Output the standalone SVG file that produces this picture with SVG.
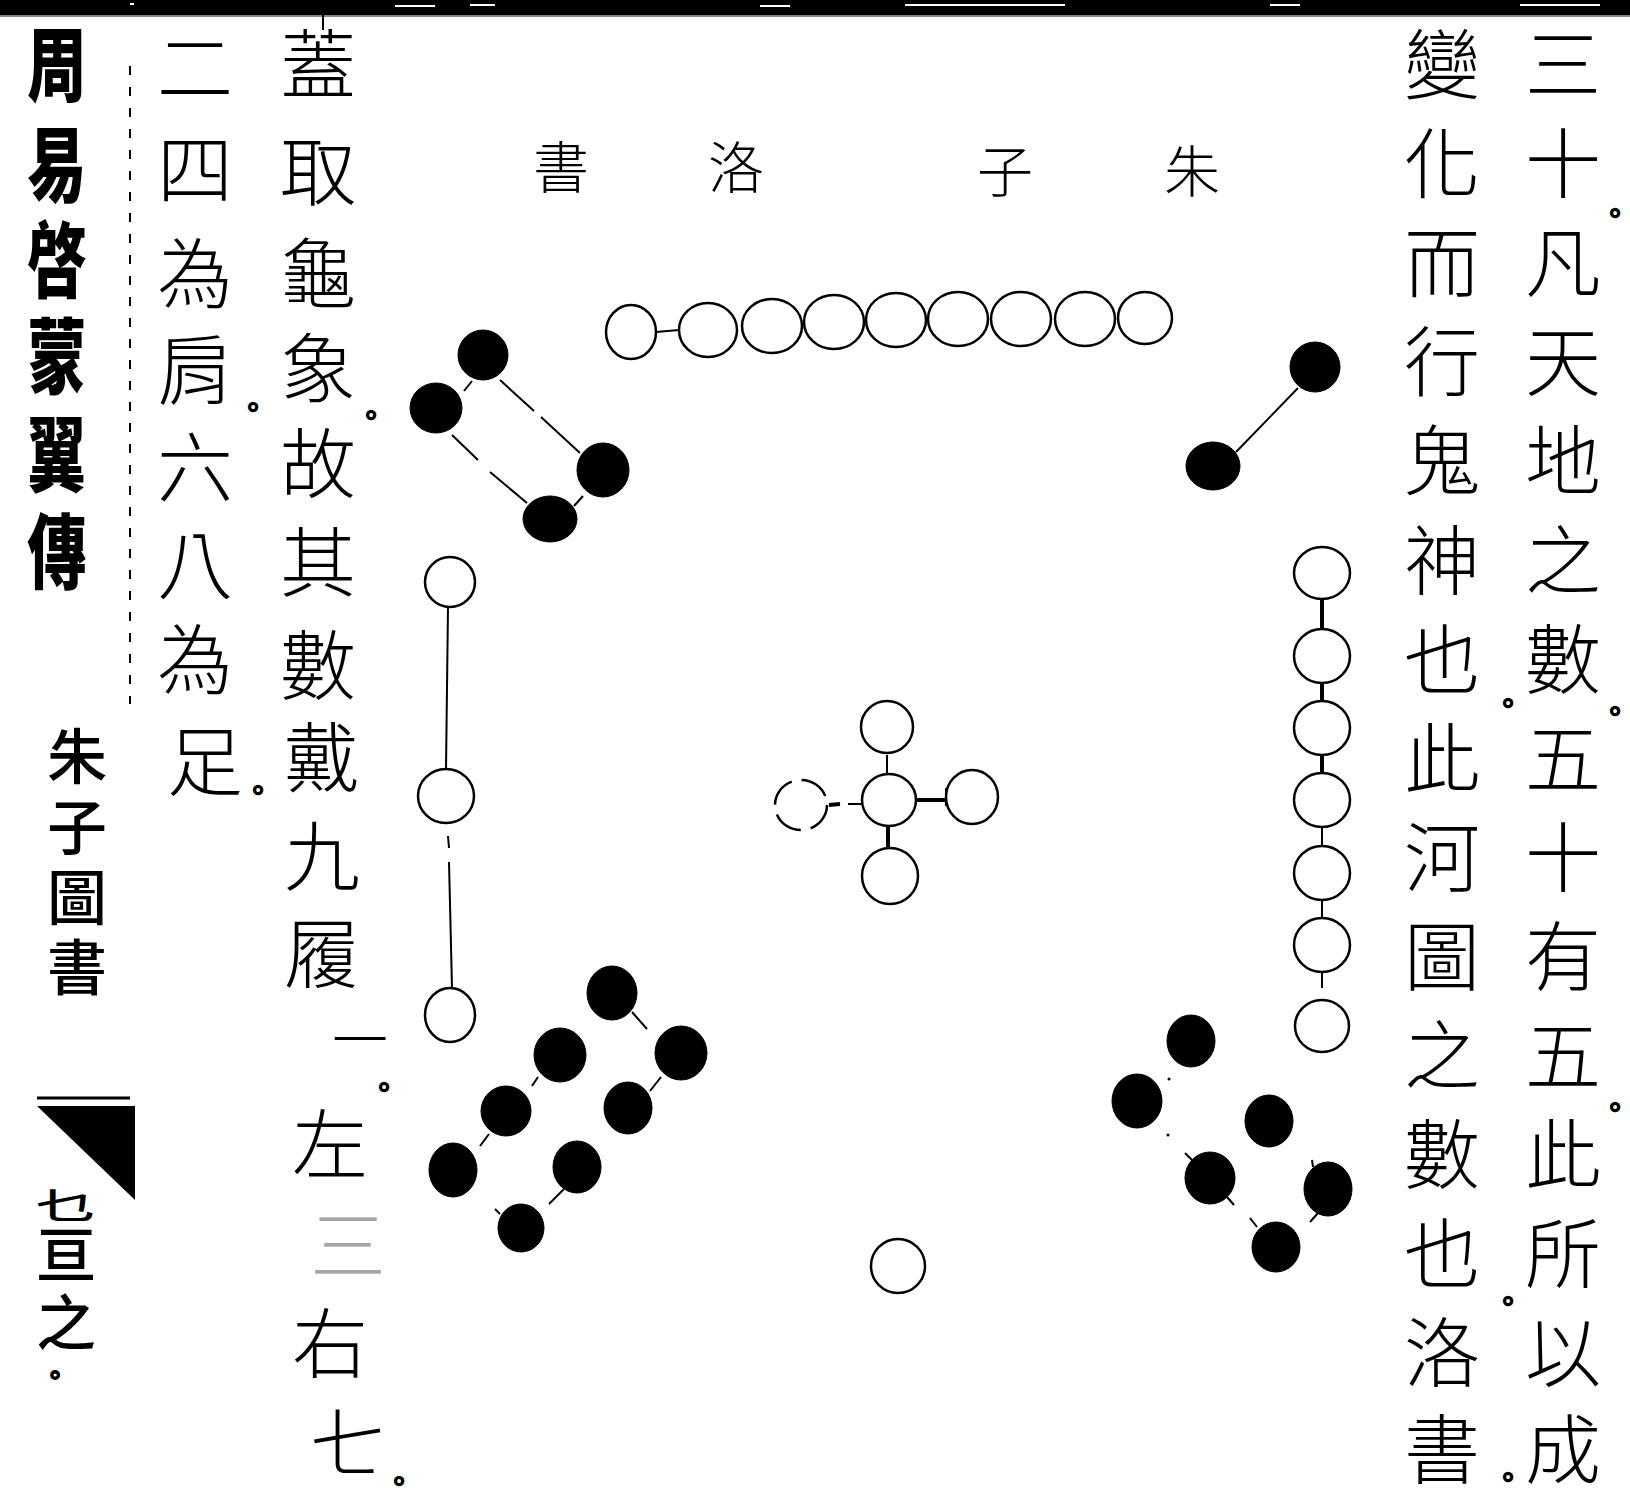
<svg xmlns="http://www.w3.org/2000/svg" width="1630" height="1500" viewBox="0 0 1630 1500">
<style>
.t{font-family:"Liberation Sans","Noto Sans CJK TC","Noto Sans CJK SC",sans-serif;font-size:76px;font-weight:300;text-anchor:middle;dominant-baseline:central;fill:#000}
.p{font-size:28px;font-weight:400;stroke:#000;stroke-width:1.8}
.ttl{font-family:"Liberation Sans","Noto Sans CJK TC","Noto Sans CJK SC",sans-serif;font-size:56px;font-weight:300;text-anchor:middle;dominant-baseline:central;fill:#000}
.m{font-family:"Liberation Sans","Noto Sans CJK TC","Noto Sans CJK SC",sans-serif;font-size:82px;font-weight:900;text-anchor:middle;dominant-baseline:central;fill:#000}
.s{font-family:"Liberation Sans","Noto Sans CJK TC","Noto Sans CJK SC",sans-serif;font-size:60px;font-weight:500;text-anchor:middle;dominant-baseline:central;fill:#000}
.w{fill:#fff;stroke:#000;stroke-width:2.5}
.b{fill:#000;stroke:#000;stroke-width:1}
.ln{stroke:#000;stroke-width:2;fill:none}
.lt{stroke:#000;stroke-width:4;fill:none}
</style>
<rect width="1630" height="1500" fill="#fff"/>
<!-- top band -->
<rect x="0" y="0" width="1630" height="15" fill="#000"/>
<rect x="0" y="15" width="1630" height="2" fill="#888"/>
<g fill="#fff">
<rect x="130" y="3" width="4" height="2"/><rect x="395" y="5" width="40" height="2"/><rect x="470" y="4" width="25" height="2"/><rect x="760" y="5" width="30" height="2"/><rect x="905" y="4" width="160" height="2"/><rect x="1270" y="4" width="30" height="2"/><rect x="1520" y="4" width="80" height="2"/>
</g>
<line x1="323" y1="14" x2="323" y2="30" class="ln"/>

<!-- margin column -->
<g id="margin-title">
<text class="m" transform="scale(0.72,1)"><tspan x="79" y="66">周</tspan><tspan x="79" y="166">易</tspan><tspan x="79" y="262">啓</tspan><tspan x="79" y="358">蒙</tspan><tspan x="79" y="456">翼</tspan><tspan x="79" y="553">傳</tspan></text>
</g>
<line x1="130" y1="66" x2="130" y2="704" stroke="#000" stroke-width="2" stroke-dasharray="9 12"/>
<g id="margin-section">
<text class="s"><tspan x="77" y="758">朱</tspan><tspan x="77" y="829">子</tspan><tspan x="77" y="899">圖</tspan><tspan x="77" y="969">書</tspan></text>
</g>
<g id="fish-tail">
<line x1="37" y1="1098" x2="130" y2="1098" stroke="#000" stroke-width="3"/>
<polygon points="37,1106 135,1106 135,1200" fill="#000"/>
</g>
<g id="margin-page">
<text class="s" font-size="50" transform="translate(66,1206) scale(1,0.6)" x="0" y="0">乜</text>
<text class="s" font-size="52"><tspan x="66" y="1256">亘</tspan><tspan x="66" y="1324">之</tspan><tspan x="55" y="1376" font-size="26" stroke="#000" stroke-width="1.8">。</tspan></text>
</g>

<!-- column 2 -->
<g id="col-2">
<text class="t"><tspan x="195" y="69">二</tspan><tspan x="195" y="171">四</tspan><tspan x="195" y="275">為</tspan><tspan x="195" y="372">肩</tspan><tspan class="p" x="253" y="408">。</tspan><tspan x="195" y="469">六</tspan><tspan x="195" y="566">八</tspan><tspan x="195" y="661">為</tspan><tspan x="205" y="763">足</tspan><tspan class="p" x="258" y="791">。</tspan></text>
</g>

<!-- column 3 -->
<g id="col-3">
<text class="t"><tspan x="318" y="66">蓋</tspan><tspan x="318" y="173">取</tspan><tspan x="318" y="275">龜</tspan><tspan x="318" y="370">象</tspan><tspan class="p" x="371" y="416">。</tspan><tspan x="318" y="465">故</tspan><tspan x="318" y="564">其</tspan><tspan x="318" y="667">數</tspan><tspan x="322" y="759">戴</tspan><tspan x="322" y="858">九</tspan><tspan x="322" y="955">履</tspan><tspan x="360" y="1040" font-size="56">一</tspan><tspan class="p" x="384" y="1088">。</tspan><tspan x="330" y="1146">左</tspan><tspan x="348" y="1247" fill-opacity="0.35">三</tspan><tspan x="330" y="1345">右</tspan><tspan x="348" y="1445">七</tspan><tspan class="p" x="399" y="1482" font-size="26">。</tspan></text>
</g>

<!-- right columns -->
<g id="col-r1">
<text class="t"><tspan x="1563" y="66">三</tspan><tspan x="1563" y="165">十</tspan><tspan class="p" x="1615" y="214">。</tspan><tspan x="1563" y="264">凡</tspan><tspan x="1563" y="363">天</tspan><tspan x="1563" y="462">地</tspan><tspan x="1563" y="562">之</tspan><tspan x="1563" y="661">數</tspan><tspan class="p" x="1615" y="712">。</tspan><tspan x="1563" y="760">五</tspan><tspan x="1563" y="859">十</tspan><tspan x="1563" y="958">有</tspan><tspan x="1563" y="1057">五</tspan><tspan class="p" x="1615" y="1108">。</tspan><tspan x="1563" y="1156">此</tspan><tspan x="1563" y="1255">所</tspan><tspan x="1563" y="1354">以</tspan><tspan x="1563" y="1451">成</tspan></text>
</g>
<g id="col-r2">
<text class="t"><tspan x="1442" y="66">變</tspan><tspan x="1442" y="165">化</tspan><tspan x="1442" y="264">而</tspan><tspan x="1442" y="363">行</tspan><tspan x="1442" y="462">鬼</tspan><tspan x="1442" y="562">神</tspan><tspan x="1442" y="661">也</tspan><tspan class="p" x="1508" y="704">。</tspan><tspan x="1442" y="760">此</tspan><tspan x="1442" y="859">河</tspan><tspan x="1442" y="958">圖</tspan><tspan x="1442" y="1057">之</tspan><tspan x="1442" y="1156">數</tspan><tspan x="1442" y="1255">也</tspan><tspan class="p" x="1508" y="1302" font-size="22">。</tspan><tspan x="1442" y="1354">洛</tspan><tspan x="1442" y="1451">書</tspan><tspan class="p" x="1508" y="1478" font-size="18">。</tspan></text>
</g>

<!-- title -->
<g id="title">
<text class="ttl"><tspan x="1192" y="172">朱</tspan><tspan x="1005" y="172">子</tspan><tspan x="736" y="168">洛</tspan><tspan x="561" y="168">書</tspan></text>
</g>

<!-- connectors -->
<g id="connectors">
<line x1="656" y1="332" x2="679" y2="330" class="ln"/>
<line x1="500" y1="380" x2="534" y2="411" class="ln"/><line x1="541" y1="417" x2="580" y2="453" class="ln"/>
<line x1="452" y1="435" x2="478" y2="460" class="ln"/><line x1="490" y1="472" x2="527" y2="503" class="ln"/>
<line x1="472" y1="381" x2="464" y2="391" class="ln"/>
<line x1="583" y1="496" x2="574" y2="506" class="ln"/>
<line x1="1298" y1="388" x2="1236" y2="452" class="ln"/>
<line x1="448" y1="607" x2="446" y2="769" class="ln"/>
<line x1="448" y1="836" x2="449" y2="848" class="ln"/><line x1="449" y1="862" x2="452" y2="988" class="ln"/>
<line x1="916" y1="800" x2="946" y2="800" class="lt"/>
<line x1="946" y1="788" x2="946" y2="806" class="ln"/>
<line x1="888" y1="826" x2="888" y2="850" class="lt"/>
<line x1="887" y1="755" x2="887" y2="774" class="ln"/>
<line x1="829" y1="805" x2="840" y2="804" class="lt"/><line x1="848" y1="804" x2="862" y2="804" class="ln"/>
<line x1="1322" y1="599" x2="1322" y2="629" class="lt"/>
<line x1="1322" y1="683" x2="1322" y2="701" class="lt"/>
<line x1="1322" y1="755" x2="1322" y2="773" class="lt"/>
<line x1="1322" y1="827" x2="1322" y2="846" class="ln"/>
<line x1="1322" y1="900" x2="1322" y2="918" class="ln"/>
<line x1="1322" y1="972" x2="1322" y2="988" class="ln"/>
<line x1="632" y1="1012" x2="647" y2="1029" class="ln"/>
<line x1="538" y1="1077" x2="532" y2="1086" class="ln"/>
<line x1="661" y1="1077" x2="650" y2="1091" class="ln"/>
<line x1="489" y1="1134" x2="480" y2="1146" class="ln"/>
<line x1="564" y1="1189" x2="549" y2="1204" class="ln"/>
<line x1="495" y1="1209" x2="500" y2="1214" class="ln"/>
<line x1="1185" y1="1153" x2="1192" y2="1160" class="ln"/>
<line x1="1227" y1="1197" x2="1234" y2="1205" class="ln"/>
<line x1="1250" y1="1218" x2="1257" y2="1227" class="ln"/>
<line x1="1312" y1="1160" x2="1313" y2="1167" class="ln"/>
<line x1="1310" y1="1222" x2="1318" y2="1213" class="ln"/>
<circle cx="1169" cy="1079" r="1.5"/><circle cx="1168" cy="1135" r="1.5"/>
</g>

<!-- nine: top row -->
<g id="nine">
<ellipse class="w" cx="631" cy="332" rx="25" ry="27"/>
<ellipse class="w" cx="708" cy="330" rx="29" ry="27"/>
<ellipse class="w" cx="772" cy="326" rx="30" ry="27"/>
<ellipse class="w" cx="834" cy="322" rx="30" ry="27"/>
<ellipse class="w" cx="896" cy="320" rx="30" ry="27"/>
<ellipse class="w" cx="958" cy="319" rx="30" ry="27"/>
<ellipse class="w" cx="1021" cy="319" rx="30" ry="27"/>
<ellipse class="w" cx="1085" cy="319" rx="30" ry="27"/>
<ellipse class="w" cx="1145" cy="318" rx="27" ry="26"/>
</g>
<!-- four: top-left -->
<g id="four">
<ellipse class="b" cx="483" cy="355" rx="25" ry="25"/>
<ellipse class="b" cx="436" cy="408" rx="26" ry="25"/>
<ellipse class="b" cx="603" cy="470" rx="26" ry="27"/>
<ellipse class="b" cx="550" cy="519" rx="27" ry="23"/>
</g>
<!-- two: top-right -->
<g id="two">
<ellipse class="b" cx="1315" cy="367" rx="25" ry="25"/>
<ellipse class="b" cx="1213" cy="466" rx="27" ry="24"/>
</g>
<!-- three: left -->
<g id="three">
<ellipse class="w" cx="450" cy="582" rx="25" ry="25"/>
<ellipse class="w" cx="446" cy="796" rx="28" ry="27"/>
<ellipse class="w" cx="450" cy="1015" rx="25" ry="27"/>
</g>
<!-- five: centre -->
<g id="five">
<ellipse class="w" cx="887" cy="727" rx="26" ry="26"/>
<ellipse class="w" cx="889" cy="800" rx="27" ry="26"/>
<ellipse class="w" cx="972" cy="797" rx="26" ry="27"/>
<ellipse class="w" cx="801" cy="805" rx="26" ry="25" stroke-dasharray="30 10"/>
<ellipse class="w" cx="890" cy="876" rx="28" ry="28"/>
</g>
<!-- seven: right -->
<g id="seven">
<ellipse class="w" cx="1322" cy="573" rx="28" ry="26"/>
<ellipse class="w" cx="1322" cy="656" rx="28" ry="27"/>
<ellipse class="w" cx="1322" cy="728" rx="28" ry="27"/>
<ellipse class="w" cx="1322" cy="800" rx="28" ry="27"/>
<ellipse class="w" cx="1322" cy="873" rx="28" ry="27"/>
<ellipse class="w" cx="1322" cy="945" rx="28" ry="27"/>
<ellipse class="w" cx="1322" cy="1026" rx="27" ry="26"/>
</g>
<!-- eight: bottom-left -->
<g id="eight">
<ellipse class="b" cx="612" cy="993" rx="25" ry="27"/>
<ellipse class="b" cx="560" cy="1055" rx="26" ry="27"/>
<ellipse class="b" cx="681" cy="1053" rx="26" ry="27"/>
<ellipse class="b" cx="506" cy="1111" rx="25" ry="25"/>
<ellipse class="b" cx="628" cy="1108" rx="24" ry="26"/>
<ellipse class="b" cx="453" cy="1170" rx="24" ry="27"/>
<ellipse class="b" cx="577" cy="1167" rx="24" ry="26"/>
<ellipse class="b" cx="521" cy="1228" rx="23" ry="24"/>
</g>
<!-- six: bottom-right -->
<g id="six">
<ellipse class="b" cx="1191" cy="1041" rx="24" ry="26"/>
<ellipse class="b" cx="1137" cy="1101" rx="25" ry="27"/>
<ellipse class="b" cx="1269" cy="1121" rx="24" ry="26"/>
<ellipse class="b" cx="1210" cy="1178" rx="25" ry="26"/>
<ellipse class="b" cx="1328" cy="1189" rx="24" ry="27"/>
<ellipse class="b" cx="1276" cy="1247" rx="24" ry="25"/>
</g>
<!-- one: bottom -->
<g id="one">
<ellipse class="w" cx="898" cy="1266" rx="27" ry="27"/>
</g>
</svg>
